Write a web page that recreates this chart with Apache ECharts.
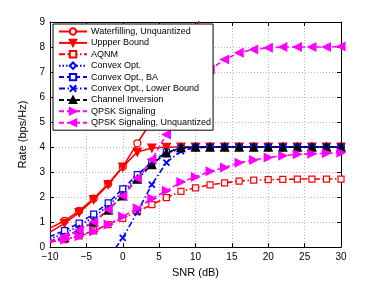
<!DOCTYPE html>
<html><head><meta charset="utf-8">
<script src="https://cdn.jsdelivr.net/npm/echarts@6/dist/echarts.min.js"></script>
<style>html,body{margin:0;padding:0;background:#fff}#c{width:377px;height:283px}</style>
</head><body><div id="c"></div>
<script>
const snr = [-10,-8,-6,-4,-2,0,2,4,6,8,10,12,14,16,18,20,22,24,26,28,30];
const waterfilling = [0.76,1.05,1.45,1.94,2.53,3.21,4.15,5.05,6.2,7.45,8.75,9.95,null,null,null,null,null,null,null,null,null];
const upperBound = [0.6,0.95,1.38,1.9,2.5,3.2,3.8,3.96,3.99,4,4,4,4,4,4,4,4,4,4,4,4];
const aqnm = [0.2,0.3,0.45,0.65,0.9,1.15,1.42,1.7,1.98,2.23,2.37,2.49,2.57,2.64,2.68,2.7,2.71,2.72,2.72,2.72,2.72];
const convexOpt = [0.32,0.55,0.85,1.2,1.65,2.2,2.8,3.35,3.75,3.93,3.99,4,4,4,4,4,4,4,4,4,4];
const convexBA = [0.42,0.66,0.96,1.32,1.77,2.33,2.9,3.4,3.8,3.95,4,4,4,4,4,4,4,4,4,4,4];
const lowerBound = [null,null,null,null,-0.45,0.37,1.4,2.5,3.38,3.84,3.97,4,4,4,4,4,4,4,4,4,4];
const channelInv = [0.24,0.38,0.7,1.0,1.48,2.05,2.72,3.3,3.77,3.98,4,4,4,4,4,4,4,4,4,4,4];
const qpsk = [0.2,0.3,0.43,0.63,0.9,1.22,1.55,1.94,2.25,2.6,2.8,3.03,3.18,3.37,3.48,3.58,3.65,3.71,3.73,3.75,3.77];
const qpskUnq = [0.25,0.42,0.68,1.0,1.5,2.05,2.75,3.5,4.5,5.5,6.4,7.1,7.5,7.77,7.9,7.97,8.0,8.0,8.0,8.0,8.02];
const xTicks = {min:-10, max:30, interval:5};
const yTicks = {min:0, max:9, interval:1};

const DASH = [5,3], DASHDOT = [6,2.5,1.5,2.5], DOT = [1.5,2];
const XPATH = 'path://M0,0L10,10M10,0L0,10';

function mk(name, vals, color, lineType, symbol, opt) {
  opt = opt || {};
  const data = [];
  vals.forEach((v,i)=>{
    if (v === null) return;
    if (snr[i] === -10) data.push({value:[snr[i], v], symbol:'none'});
    else data.push([snr[i], v]);
  });
  return Object.assign({
    name, type:'line', data, symbol, symbolSize: opt.size || 6,
    symbolRotate: opt.rot || 0,
    showAllSymbol:true, clip:true, animation:false,
    lineStyle:{color, width:1.6, type:lineType},
    itemStyle:{color: opt.fill || color, borderColor: color, borderWidth: 1.2}
  }, opt.extra || {});
}

const series = [
  mk('Waterfilling, Unquantized', waterfilling, '#ff0000', 'solid', 'circle', {fill:'#fff', size:7}),
  mk('Uppper Bound', upperBound, '#ff0000', 'solid', 'triangle', {rot:180, size:8}),
  mk('AQNM', aqnm, '#ff0000', DASHDOT, 'rect', {fill:'#fff', size:6}),
  mk('Convex Opt.', convexOpt, '#0000ff', DOT, 'diamond', {fill:'#fff', size:7}),
  mk('Convex Opt., BA', convexBA, '#0000ff', DASH, 'rect', {fill:'#fff', size:6}),
  mk('Convex Opt., Lower Bound', lowerBound, '#0000ff', DASHDOT, XPATH, {size:6, extra:{itemStyle:{color:'#0000ff', borderColor:'#0000ff', borderWidth:1.8}}}),
  mk('Channel Inversion', channelInv, '#000000', DASH, 'triangle', {size:8}),
  mk('QPSK Signaling', qpsk, '#ff00ff', DASH, 'triangle', {rot:-90, size:8}),
  mk('QPSK Signaling, Unquantized', qpskUnq, '#ff00ff', DASH, 'triangle', {rot:90, size:8})
];

const axisCommon = {
  axisLine:{show:true, onZero:false, lineStyle:{color:'#000', width:1}},
  axisTick:{show:true, inside:true, length:4, lineStyle:{color:'#000'}},
};
const minus = v => String(v).replace('-', '\u2212');

const chart = echarts.init(document.getElementById('c'), null, {renderer:'canvas'});
chart.setOption({
  animation:false,
  backgroundColor:'#fff',
  textStyle:{fontFamily:'Liberation Sans, Arial, sans-serif'},
  grid:{left:50, right:36, top:22, bottom:32, containLabel:false},
  legend:{
    show:true, orient:'vertical', left:53, top:24,
    backgroundColor:'#fff', borderColor:'#000', borderWidth:1,
    padding:[3,2,3,5], itemWidth:28, itemHeight:8, itemGap:2.4,
    textStyle:{fontSize:9, color:'#000', fontFamily:'Liberation Sans, Arial, sans-serif', padding:[0,0,0,-1]},
    data: series.map(s=>s.name)
  },
  xAxis:[
    Object.assign({type:'value', position:'bottom', min:xTicks.min, max:xTicks.max, interval:xTicks.interval,
      axisLabel:{color:'#000', fontSize:10, margin:5, formatter:minus},
      splitLine:{show:true, lineStyle:{color:'#b8b8b8', type:[1,2]}},
      name:'SNR (dB)', nameLocation:'middle', nameGap:19,
      nameTextStyle:{fontSize:11, color:'#000'}}, axisCommon),
    Object.assign({type:'value', position:'top', min:xTicks.min, max:xTicks.max, interval:xTicks.interval,
      axisLabel:{show:false}, splitLine:{show:false}}, axisCommon)
  ],
  yAxis:[
    Object.assign({type:'value', position:'left', min:yTicks.min, max:yTicks.max, interval:yTicks.interval,
      axisLabel:{color:'#000', fontSize:10, margin:5, formatter:minus},
      splitLine:{show:true, lineStyle:{color:'#b8b8b8', type:[1,2]}},
      name:'Rate (bps/Hz)', nameLocation:'middle', nameGap:13,
      nameTextStyle:{fontSize:11, color:'#000'}}, axisCommon),
    Object.assign({type:'value', position:'right', min:yTicks.min, max:yTicks.max, interval:yTicks.interval,
      axisLabel:{show:false}, splitLine:{show:false}}, axisCommon)
  ],
  series
});
</script>
</body></html>
